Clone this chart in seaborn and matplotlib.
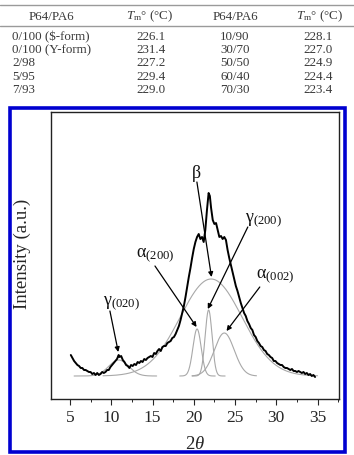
import numpy as np
import pandas as pd
import matplotlib
matplotlib.use("Agg")
import matplotlib.pyplot as plt
from matplotlib.patches import Rectangle
from matplotlib.lines import Line2D
from matplotlib.ticker import MultipleLocator
import seaborn as sns

# ---------------- data ----------------
# table
blend_left = ["0/100 (\\$-form)", "0/100 (Y-form)", "2/98", "5/95", "7/93"]
tm_left = ["226.1", "231.4", "227.2", "229.4", "229.0"]
blend_right = ["10/90", "30/70", "50/50", "60/40", "70/30"]
tm_right = ["228.1", "227.0", "224.9", "224.4", "223.4"]
table_headers = ["P64/PA6", r"$T_{\mathrm{m}}$° (°C)", "P64/PA6", r"$T_{\mathrm{m}}$° (°C)"]

# measured XRD pattern (2theta, intensity a.u.)
two_theta = [5.1, 5.3, 5.5, 5.7, 5.9, 6.1, 6.3, 6.5, 6.7, 6.9, 7.1, 7.3, 7.5, 7.7, 7.9,
             8.1, 8.3, 8.5, 8.7, 8.9, 9.1, 9.3, 9.5, 9.7, 9.9, 10.1, 10.3, 10.5, 10.7,
             10.9, 11.0, 11.2, 11.4, 11.6, 11.8, 12.0, 12.2, 12.4, 12.6, 12.8, 13.0,
             13.2, 13.4, 13.6, 13.8, 14.0, 14.2, 14.4, 14.6, 14.8, 15.0, 15.2, 15.4,
             15.6, 15.8, 16.0, 16.2, 16.4, 16.6, 16.8, 17.0, 17.2, 17.4, 17.6, 17.8,
             18.0, 18.2, 18.4, 18.6, 18.8, 19.0, 19.2, 19.4, 19.6, 19.8, 20.0, 20.2,
             20.4, 20.6, 20.8, 21.0, 21.2, 21.4, 21.6, 21.8, 21.95, 22.1, 22.3, 22.5,
             22.7, 22.9, 23.1, 23.3, 23.5, 23.7, 23.9, 24.1, 24.3, 24.5, 24.7, 24.9,
             25.1, 25.3, 25.5, 25.7, 25.9, 26.1, 26.3, 26.5, 26.7, 26.9, 27.1, 27.3,
             27.5, 27.7, 27.9, 28.1, 28.3, 28.5, 28.7, 28.9, 29.1, 29.3, 29.5, 29.7,
             29.9, 30.1, 30.3, 30.5, 30.7, 30.9, 31.1, 31.3, 31.5, 31.7, 31.9, 32.1,
             32.3, 32.5, 32.7, 32.9, 33.1, 33.3, 33.5, 33.7, 33.9, 34.1, 34.3, 34.5, 34.7]
intensity = [21, 18, 15, 13, 11, 10, 8, 8, 6, 6, 5, 4, 4, 2, 3,
             1, 3, 1, 2, 4, 3, 4, 6, 6, 9, 11, 13, 15, 17,
             21, 19, 20, 16, 14, 11, 10, 8, 11, 10, 12, 11,
             14, 13, 15, 14, 17, 16, 18, 19, 20, 19, 23, 22,
             25, 27, 25, 29, 30, 30, 33, 34, 35, 38, 39, 42,
             46, 50, 56, 63, 70, 79, 89, 99, 108, 118, 127, 134,
             139, 142, 137, 139, 134, 146, 166, 183, 180, 168, 156, 152,
             153, 146, 139, 140, 137, 139, 136, 126, 118, 111, 104, 97,
             90, 85, 79, 73, 68, 63, 60, 55, 52, 48, 46, 41,
             39, 35, 33, 30, 29, 26, 25, 22, 21, 19, 18, 15,
             15, 13, 12, 11, 11, 9, 8, 8, 7, 6, 7, 5,
             5, 4, 5, 4, 3, 4, 2, 3, 1, 2, 0, 1, -1]

# fitted peak components
peak_names = ["gamma020", "amorphous", "alpha200", "gamma200", "alpha002"]
peak_centers = [10.9, 22.1, 20.4, 21.8, 23.7]
peak_heights = [16, 97, 47, 66, 43]
peak_sigmas = [1.2, 3.75, 0.5, 0.42, 1.2]
peak_lo = [5.5, 9.0, 18.3, 19.8, 19.8]
peak_hi = [15.5, 35.0, 22.6, 23.8, 27.6]

# annotations: label, label position, arrow tail, arrow head
ann_labels = [r"$\mathrm{β}$", r"$\mathrm{γ}_{\mathrm{(200)}}$", r"$\mathrm{α}_{\mathrm{(200)}}$",
              r"$\mathrm{α}_{\mathrm{(002)}}$", r"$\mathrm{γ}_{\mathrm{(020)}}$"]
ann_text_xy = [(19.7, 199), (26.2, 155), (13.0, 120), (27.6, 99), (9.0, 72)]
ann_tail_xy = [(20.38, 194), (26.55, 149), (15.3, 110), (28.0, 89), (9.84, 65)]
ann_head_xy = [(22.15, 99), (21.7, 67), (20.34, 49), (23.97, 45), (10.85, 24)]

x_ticks = [5, 10, 15, 20, 25, 30, 35]

# ---------------- style ----------------
sns.set_style("ticks")
plt.rcParams["font.family"] = ["Liberation Serif", "DejaVu Serif"]
plt.rcParams["mathtext.fontset"] = "custom"
plt.rcParams["mathtext.rm"] = "Liberation Serif"
plt.rcParams["mathtext.it"] = "Liberation Serif:italic"
plt.rcParams["mathtext.bf"] = "Liberation Serif:bold"

W, H = 354, 456
fig = plt.figure(figsize=(W / 100, H / 100), dpi=100)
fig.patch.set_facecolor("white")


def fx(px):
    return px / W


def fy(py):
    return 1 - py / H


# ---------------- table ----------------
for yy in (6, 27):
    fig.add_artist(Line2D([0, 1], [fy(yy), fy(yy)], transform=fig.transFigure,
                          color="#9a9a9a", lw=1.0))
tcol = "#3a3a3a"
tfs = 9.4
hdr_x = [51.5, 150, 235.5, 320]
for hx, h in zip(hdr_x, table_headers):
    fig.text(fx(hx), fy(16.5), h, ha="center", va="center", fontsize=tfs, color=tcol)
row_y = [36.8, 50.1, 63.4, 76.7, 90.0]
for i, yy in enumerate(row_y):
    fig.text(fx(12), fy(yy), blend_left[i], ha="left", va="center", fontsize=tfs, color=tcol)
    fig.text(fx(151), fy(yy), tm_left[i], ha="center", va="center", fontsize=tfs, color=tcol)
    fig.text(fx(235), fy(yy), blend_right[i], ha="center", va="center", fontsize=tfs, color=tcol)
    fig.text(fx(318.5), fy(yy), tm_right[i], ha="center", va="center", fontsize=tfs, color=tcol)

# blue frame
fig.add_artist(Rectangle((fx(10), fy(453)), fx(345) - fx(10), fy(109) - fy(453),
                         transform=fig.transFigure, fill=False, edgecolor="#0000d0", lw=2.6))

# ---------------- chart ----------------
ax = fig.add_axes([fx(51), fy(400), fx(339) - fx(51), fy(113) - fy(400)])

# fitted components (thin grey)
comp_frames = []
for name, c, h, s, lo, hi in zip(peak_names, peak_centers, peak_heights, peak_sigmas, peak_lo, peak_hi):
    xx = np.linspace(lo, hi, 300)
    comp_frames.append(pd.DataFrame({"x": xx, "y": h * np.exp(-(xx - c) ** 2 / (2 * s ** 2)),
                                     "peak": name}))
comp_df = pd.concat(comp_frames, ignore_index=True)
sns.lineplot(data=comp_df, x="x", y="y", units="peak", estimator=None, sort=False,
             color="#a8a8a8", lw=0.8, ax=ax)

# measured curve
meas_df = pd.DataFrame({"two_theta": two_theta, "intensity": intensity})
sns.lineplot(data=meas_df, x="two_theta", y="intensity", sort=False, estimator=None,
             color="black", lw=1.4, ax=ax)

# annotations
for lab, txy, tail, head in zip(ann_labels, ann_text_xy, ann_tail_xy, ann_head_xy):
    ax.text(txy[0], txy[1], lab, ha="left", va="baseline", fontsize=13, color="#111111")
    ax.annotate("", xy=head, xytext=tail,
                arrowprops=dict(arrowstyle="-|>", color="black", lw=0.9,
                                mutation_scale=7, shrinkA=0, shrinkB=0))

ax.set_xlim(2.7, 37.6)
ax.set_ylim(-23, 264)
ax.set_xticks(x_ticks)
ax.set_xticklabels([str(t) for t in x_ticks])
ax.xaxis.set_minor_locator(MultipleLocator(2.5))
ax.set_yticks([])
ax.tick_params(axis="x", which="major", direction="out", length=4, width=0.8,
               labelsize=12.5, pad=3)
ax.tick_params(axis="x", which="minor", direction="out", length=2.5, width=0.7)
ax.set_xlabel("")
ax.set_ylabel("")
for sp in ax.spines.values():
    sp.set_visible(True)
    sp.set_linewidth(1.0)
    sp.set_color("#222222")

fig.text(fx(22), fy(254), "Intensity (a.u.)", rotation=90, ha="center", va="center",
         fontsize=13.5)
fig.text(fx(195), fy(445), r"2$\mathit{θ}$", ha="center", va="center", fontsize=13.5)

fig.savefig("out.png", dpi=100, facecolor="white")
